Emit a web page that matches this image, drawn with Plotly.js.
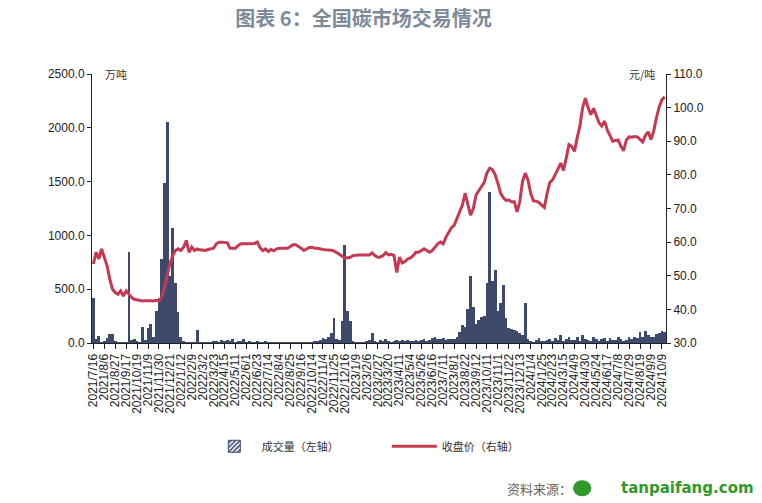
<!DOCTYPE html>
<html>
<head>
<meta charset="utf-8">
<script src="https://cdn.plot.ly/plotly-3.0.1.min.js"></script>
<style>html,body{margin:0;padding:0;background:#fff;}#chart{width:762px;height:503px;}</style>
</head>
<body>
<div id="chart"></div>
<script>
const tickLabels = ['2021/7/16','2021/8/6','2021/8/27','2021/9/17','2021/10/19','2021/11/9','2021/11/30','2021/12/21',
'2022/1/12','2022/2/9','2022/3/2','2022/3/23','2022/4/15','2022/5/11','2022/6/1','2022/6/23','2022/7/14','2022/8/4','2022/8/25','2022/9/16','2022/10/14','2022/11/4','2022/11/25','2022/12/16',
'2023/1/9','2023/2/6','2023/2/27','2023/3/20','2023/4/11','2023/5/4','2023/5/26','2023/6/16','2023/7/11','2023/8/1','2023/8/22','2023/9/12','2023/10/11','2023/11/1','2023/11/22','2023/12/13',
'2024/1/4','2024/1/25','2024/2/23','2024/3/15','2024/4/9','2024/4/30','2024/5/24','2024/6/17','2024/7/8','2024/7/29','2024/8/19','2024/9/9','2024/10/9'];

// samples per tick-label interval (each label is 15 trading days apart)
const samplesPerLabel = 4;

// 成交量 (万吨)
const volume = [
420,40,65,10,20,50,85,80,15,10,
5,5,10,850,30,40,15,10,150,30,
140,175,60,300,420,780,1490,2050,620,1070,
560,290,60,15,10,8,5,10,120,10,
8,5,12,10,20,15,10,25,20,30,
15,35,10,15,20,35,10,15,8,10,
20,12,8,15,10,5,8,12,6,10,
5,8,6,10,5,8,6,10,8,12,
10,15,20,30,45,40,60,95,230,40,
30,200,910,300,200,20,8,5,10,6,
15,30,90,20,10,25,15,35,20,10,
15,25,20,30,15,25,20,15,30,20,
25,35,20,30,45,55,40,35,45,30,
40,35,40,60,100,170,150,320,620,330,
180,210,240,250,560,1400,580,680,300,370,
540,230,140,130,125,110,90,70,370,40,
20,10,30,50,15,20,30,40,15,50,
30,70,20,35,60,25,30,60,20,70,
40,30,20,55,40,20,35,50,20,45,
30,25,60,35,20,30,55,40,60,45,
100,60,110,70,55,60,80,90,110,100];

// 收盘价 (元/吨)
const price = [
53.5,57,55,58,55.5,53,49,46,45,44.5,
45.5,44,45.5,44.5,43.5,43,42.8,42.6,42.5,42.6,
42.7,42.6,42.5,42.7,42.6,43.5,46.5,50,53.5,56,
57.5,58,57.5,58.5,60.5,57,58.5,57.5,58,57.7,
57.7,57.5,57.8,58,58.2,59.5,60,60,60,59.8,
58.2,58.2,58.2,59,59.5,59.5,59.5,59.5,59.5,59.6,
60,58.3,57.5,58,57.2,57.8,57.4,58,58.2,58.2,
58.2,58.2,58.6,59.2,59.2,58.8,58.2,57.5,58,58.4,
58.5,58.2,58.2,57.9,57.8,57.7,57.7,57.6,57.4,57,
56.4,55.8,55.4,55.3,55.5,56,56.2,56.2,56.2,56.3,
56.2,56.2,56.8,56,55.5,55.6,56,56.9,56.2,56.4,
56,51,55.5,53.8,54.2,55,55.3,56,57,57,
57.5,58,57.5,57,57.5,58.5,59.5,60,59.5,61.5,
63,64.3,65,67,69,71,74.6,71.5,68,70,
74,75.3,76.5,77.8,80.6,82,81.6,80,77.5,74.5,
73.2,72.4,72.5,72,72,69,72,78,80.5,78.5,
74.5,72.3,72.2,71.8,71,70.3,74.5,77.8,78.5,80,
81.8,83.5,81.3,85,89,88.5,87,91,94.5,100,
102.8,100,97.9,99.8,97.5,95.5,94.5,96,93.4,91.5,
90,90.2,90.4,88.5,87.2,90.4,91.3,91.2,91.4,91.3,
90.5,89.8,91.8,92.8,90.5,93,97,100.2,102.3,103.2];

const idx = price.map((_, i) => i);
const tickVals = tickLabels.map((_, k) => k * samplesPerLabel);

const navy = '#3d4a6b';
const red = '#c43a52';
const axisFont = {family: 'Liberation Sans, Arial, sans-serif', size: 12, color: '#222'};
const cjk = 'Noto Sans CJK SC, sans-serif';

const traces = [
  {type: 'bar', x: idx, y: volume, yaxis: 'y', marker: {color: navy, line: {width: 0}},
   showlegend: false, hoverinfo: 'y'},
  {type: 'bar', x: [null], y: [null], yaxis: 'y', name: '成交量（左轴）',
   marker: {color: '#ffffff', line: {color: navy, width: 1},
            pattern: {shape: '/', fgcolor: navy, bgcolor: '#ffffff', size: 4, solidity: 0.5}}},
  {type: 'scatter', mode: 'lines', x: idx, y: price, yaxis: 'y2', name: '收盘价（右轴）',
   line: {color: red, width: 3}}
];

const layout = {
  width: 762, height: 503,
  margin: {l: 92, r: 96, t: 74, b: 160, pad: 0},
  paper_bgcolor: '#fff', plot_bgcolor: '#fff',
  bargap: 0,
  title: {text: '<b>图表 6：全国碳市场交易情况</b>', x: 0.477, xref: 'container', xanchor: 'center',
          y: 0.962, yref: 'container', yanchor: 'middle',
          font: {family: cjk, size: 20, color: '#7d8a9a'}},
  xaxis: {range: [-0.5, price.length - 0.5], tickmode: 'array', tickvals: tickVals, ticktext: tickLabels,
          tickangle: -90, tickfont: axisFont, ticks: 'outside', ticklen: 5, tickcolor: '#222',
          showline: true, linecolor: '#222', linewidth: 1, showgrid: false, zeroline: false, fixedrange: true},
  yaxis: {range: [0, 2500], dtick: 500, tickformat: '.1f', tickfont: axisFont, ticks: 'outside', ticklen: 4,
          tickcolor: '#222', showline: true, linecolor: '#222', linewidth: 1, showgrid: false, zeroline: false},
  yaxis2: {range: [30, 110], dtick: 10, tickformat: '.1f', tickfont: axisFont, overlaying: 'y', side: 'right',
           ticks: 'outside', ticklen: 4, tickcolor: '#222', showline: true, linecolor: '#222', linewidth: 1,
           showgrid: false, zeroline: false},
  legend: {orientation: 'h', x: 0.2, xanchor: 'left', y: -0.33, yanchor: 'top',
           font: {family: cjk, size: 11, color: '#333'}, entrywidth: 120, itemwidth: 45,
           bgcolor: 'rgba(0,0,0,0)'},
  annotations: [
    {text: '万吨', xref: 'paper', yref: 'paper', x: 0.02, y: 1.0, xanchor: 'left', yanchor: 'middle',
     showarrow: false, font: {family: cjk, size: 11, color: '#333'}},
    {text: '元/吨', xref: 'paper', yref: 'paper', x: 0.985, y: 1.0, xanchor: 'right', yanchor: 'middle',
     showarrow: false, font: {family: cjk, size: 11, color: '#333'}},
    {text: '资料来源：', xref: 'paper', yref: 'paper', x: 0.72, y: -0.54, xanchor: 'left', yanchor: 'middle',
     showarrow: false, font: {family: cjk, size: 13, color: '#666'}},
    {text: '<b>tanpaifang.com</b>', xref: 'paper', yref: 'paper', x: 1.157, y: -0.54, xanchor: 'right', yanchor: 'middle',
     showarrow: false, font: {family: 'DejaVu Sans, sans-serif', size: 15, color: '#2f9a2a'}}
  ],
  shapes: [
    {type: 'circle', xref: 'paper', yref: 'paper', x0: 0.838, x1: 0.870, y0: -0.57, y1: -0.51,
     fillcolor: '#2f9a2a', line: {width: 0}}
  ]
};

Plotly.newPlot('chart', traces, layout, {displayModeBar: false, staticPlot: true});
</script>
</body>
</html>
